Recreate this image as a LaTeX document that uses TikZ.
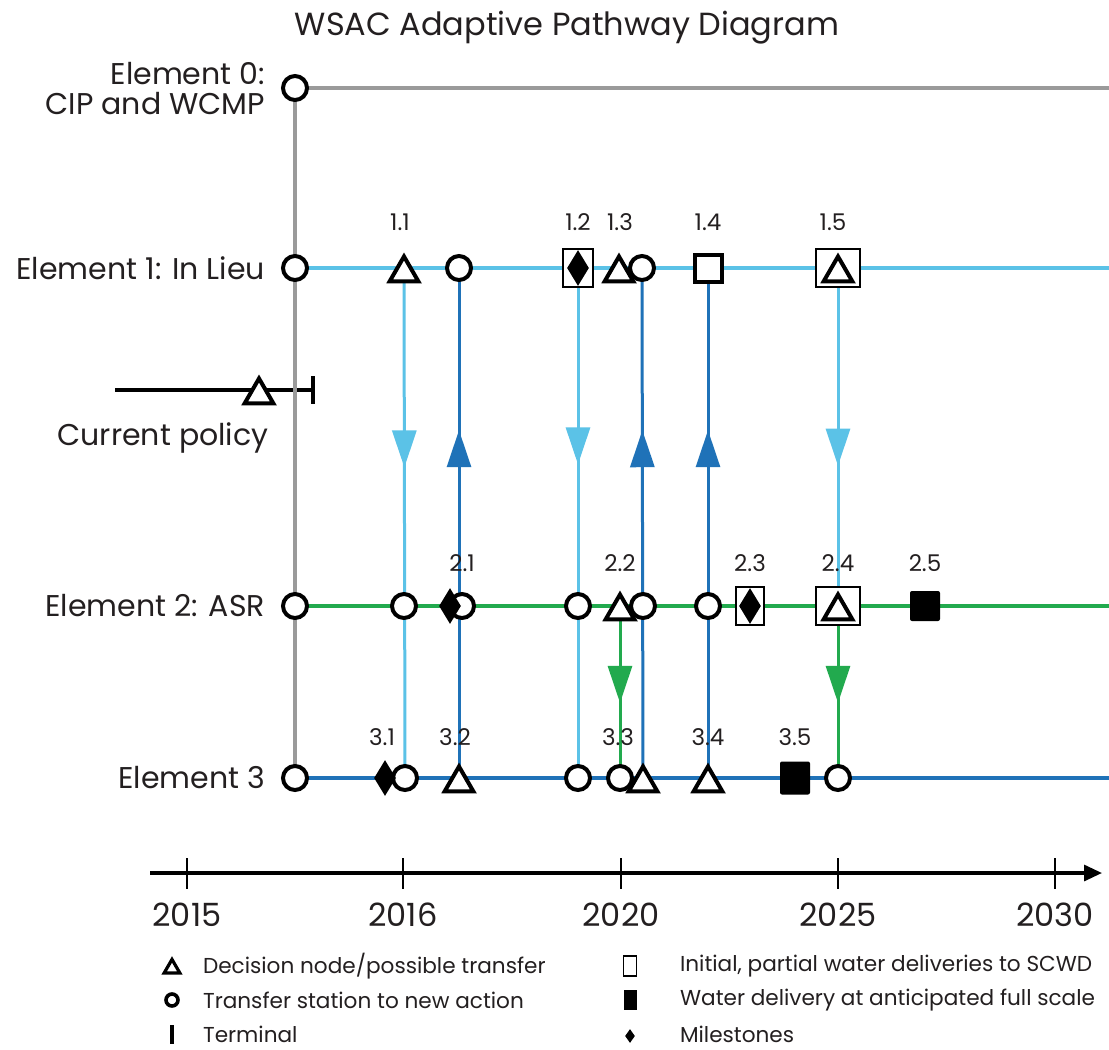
\documentclass[tikz,border=0pt]{standalone}
\usepackage{fontspec}
\setmainfont{Poppins}
\usetikzlibrary{shapes.geometric,arrows.meta,decorations.markings}
\pgfdeclarelayer{bg}
\pgfsetlayers{bg,main}
\definecolor{lightbl}{HTML}{5BC2E7}
\definecolor{darkbl}{HTML}{1F72B8}
\definecolor{grn}{HTML}{22AA4E}
\definecolor{gry}{HTML}{9A9A9A}
\definecolor{ink}{HTML}{231F20}
\tikzset{
  stn/.style={circle, draw=black, line width=2pt, fill=white, minimum size=12pt, inner sep=0pt},
  dec/.style={regular polygon, regular polygon sides=3, draw=black, line width=2pt, fill=white,
    minimum size=16.5pt, inner sep=0pt, yshift=-2.5pt},
  mile/.style={diamond, fill=black, minimum width=11pt, minimum height=18pt, inner sep=0pt},
  part/.style={rectangle, draw=black, line width=2pt, fill=white, minimum size=13.5pt, inner sep=0pt},
  full/.style={rectangle, fill=black, rounded corners=1pt, minimum size=15pt, inner sep=0pt},
  boxed/.style={rectangle, draw=black, line width=0.6pt, fill=white, minimum height=19pt, inner sep=0pt},
  num/.style={font=\fontsize{11.5}{13}\selectfont, text=ink},
  elab/.style={font=\fontsize{15}{15}\selectfont, anchor=east, align=right, text=ink},
  keytxt/.style={font=\fontsize{10.8}{12}\selectfont, anchor=west, text=ink},
  midarrow/.style={postaction={decorate}, decoration={markings,
    mark=at position #1 with {\arrow{Triangle[length=18.5pt,width=12pt]}}}},
}
\begin{document}
\begin{tikzpicture}[x=0.5pt, y=-0.5pt]
  \useasboundingbox (0,0) rectangle (1109,1050);

  \node[font=\fontsize{16}{18}\selectfont, text=ink] (title) at (567,28) {WSAC Adaptive Pathway Diagram};

  % element labels
  \node[elab] (lab0) at (272,89) {Element 0:\\CIP and WCMP};
  \node[elab] (lab1) at (272,268) {Element 1: In Lieu};
  \node[elab] (lab2) at (272,606) {Element 2: ASR};
  \node[elab] (lab3) at (272,778) {Element 3};
  \node[font=\fontsize{15}{15}\selectfont, text=ink] (labcp) at (163,438) {Current policy};

  \coordinate (r0) at (1109,88);
  \coordinate (r1) at (1109,268);
  \coordinate (r2) at (1109,606);
  \coordinate (r3) at (1109,778);
  \coordinate (cp0) at (115,390);
  \coordinate (cp1) at (315,390);

  % element 0 and 1
  \node[stn] (c0) at (295,88) {};
  \node[stn] (c1) at (295,268) {};
  \node[dec] (t11) at (404,268) {};
  \node[stn] (c11) at (459,268) {};
  \node[boxed, minimum width=15pt] (b12) at (578,268) {};
  \node[mile] (m12) at (578,268) {};
  \node[dec] (t13) at (619,268) {};
  \node[stn] (c13) at (642,268) {};
  \node[part] (s14) at (708,268) {};
  \node[boxed, minimum width=22pt] (b15) at (838,268) {};
  \node[dec] (t15) at (838,268) {};

  % element 2
  \node[stn] (c2) at (295,606) {};
  \node[stn] (c21a) at (404,606) {};
  \node[stn] (c21) at (462,606) {};
  \node[mile] (m21) at (450,606) {};
  \node[stn] (c22a) at (578,606) {};
  \node[dec] (t22) at (620,606) {};
  \node[stn] (c22) at (643,606) {};
  \node[stn] (c23a) at (708,606) {};
  \node[boxed, minimum width=14pt] (b23) at (750,606) {};
  \node[mile] (m23) at (750,606) {};
  \node[boxed, minimum width=22pt] (b24) at (838,606) {};
  \node[dec] (t24) at (838,606) {};
  \node[full] (f25) at (925,606) {};

  % element 3
  \node[stn] (c3) at (295,778) {};
  \node[stn] (c31) at (405,778) {};
  \node[mile] (m31) at (385,778) {};
  \node[dec] (t32) at (459,778) {};
  \node[stn] (c33a) at (578,778) {};
  \node[stn] (c33) at (620,778) {};
  \node[dec] (t33) at (643,778) {};
  \node[dec] (t34) at (708,778) {};
  \node[full, minimum height=16.5pt] (f35) at (795,778) {};
  \node[stn] (c35) at (838,778) {};

  % current policy
  \node[dec] (tcp) at (259,390) {};

  % action numbers
  \node[num] (n11) at (400,222) {1.1};
  \node[num] (n12) at (578,222) {1.2};
  \node[num] (n13) at (620,222) {1.3};
  \node[num] (n14) at (708,222) {1.4};
  \node[num] (n15) at (833,222) {1.5};
  \node[num] (n21) at (462,563) {2.1};
  \node[num] (n22) at (620,563) {2.2};
  \node[num] (n23) at (750,563) {2.3};
  \node[num] (n24) at (838,563) {2.4};
  \node[num] (n25) at (925,563) {2.5};
  \node[num] (n31) at (382,737) {3.1};
  \node[num] (n32) at (455,737) {3.2};
  \node[num] (n33) at (618,737) {3.3};
  \node[num] (n34) at (708,737) {3.4};
  \node[num] (n35) at (795,737) {3.5};

  \begin{pgfonlayer}{bg}
    \fill[white] (0,0) rectangle (1109,1050);
    \draw[line width=2pt, -{Bar[width=14pt]}] (cp0) -- (cp1);
    \draw[gry, line width=2pt] (c0.center) -- (r0);
    \draw[gry, line width=2pt] (c0.center) -- (c3.center);
    \draw[lightbl, line width=2.4pt] (c1.center) -- (r1);
    \draw[grn, line width=2.2pt] (c2.center) -- (r2);
    \draw[darkbl, line width=2.2pt] (c3.center) -- (r3);

    \draw[lightbl, line width=1.5pt, midarrow=0.385] (t11.center) -- (c31.center);
    \draw[lightbl, line width=1.5pt, midarrow=0.385] (m12.center) -- (c33a.center);
    \draw[lightbl, line width=1.5pt, midarrow=0.57] (t15.center) -- (t24.center);
    \draw[darkbl, line width=1.5pt, midarrow=0.685] (t32.center) -- (c11.center);
    \draw[darkbl, line width=1.5pt, midarrow=0.685] (t33.center) -- (c13.center);
    \draw[darkbl, line width=1.5pt, midarrow=0.685] (t34.center) -- (s14.center);
    \draw[grn, line width=1.5pt, midarrow=0.55] (t22.center) -- (c33.center);
    \draw[grn, line width=1.5pt, midarrow=0.55] (t24.center) -- (c35.center);
  \end{pgfonlayer}

  % time axis
  \coordinate (ax0) at (150,873);
  \coordinate (ax1) at (1102,873);
  \draw[line width=1.6pt, -{Triangle[length=9pt,width=8pt]}] (ax0) -- (ax1);
  \foreach \x/\yr in {187/2015, 403/2016, 621/2020, 838/2025, 1055/2030} {
    \draw[line width=1.2pt] (\x,858) -- (\x,889);
    \node[font=\fontsize{16}{18}\selectfont, text=ink] (y\yr) at (\x,915) {\yr};
  }

  % legend
  \node[regular polygon, regular polygon sides=3, draw=black, line width=1.6pt, minimum size=9pt,
    inner sep=0pt, yshift=-1.2pt] (k1) at (172,966) {};
  \node[circle, draw=black, line width=1.8pt, minimum size=6pt, inner sep=0pt] (k2) at (172,1000) {};
  \node[rectangle, fill=black, minimum width=1.6pt, minimum height=9.5pt, inner sep=0pt] (k3) at (172,1034) {};
  \node[keytxt] (kt1) at (196,966) {Decision node/possible transfer};
  \node[keytxt] (kt2) at (196,1000) {Transfer station to new action};
  \node[keytxt] (kt3) at (196,1034) {Terminal};
  \node[rectangle, draw=black, line width=0.6pt, minimum width=6.5pt, minimum height=10pt, inner sep=0pt] (k4) at (630,966) {};
  \node[rectangle, fill=black, minimum width=6.5pt, minimum height=10pt, inner sep=0pt] (k5) at (630,1000) {};
  \node[diamond, fill=black, minimum width=5pt, minimum height=7pt, inner sep=0pt] (k6) at (630,1036) {};
  \node[keytxt] (kt4) at (673,966) {Initial, partial water deliveries to SCWD};
  \node[keytxt] (kt5) at (673,1000) {Water delivery at anticipated full scale};
  \node[keytxt] (kt6) at (673,1034) {Milestones};
\end{tikzpicture}
\end{document}
